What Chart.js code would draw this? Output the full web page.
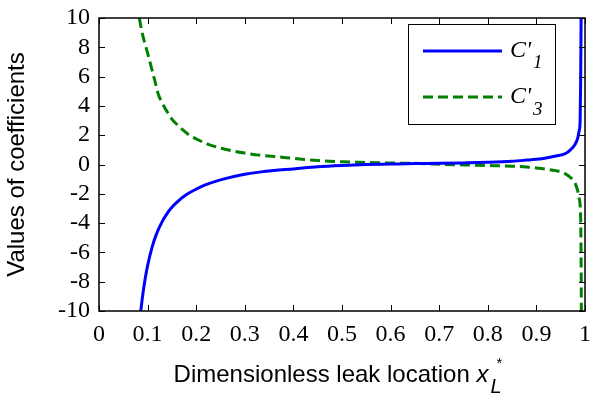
<!DOCTYPE html>
<html>
<head>
<meta charset="utf-8">
<script src="https://cdn.jsdelivr.net/npm/chart.js@4"></script>
<style>
html, body { margin: 0; padding: 0; background: #fff; }
</style>
</head>
<body>
<canvas id="coeffChart" width="593" height="401"></canvas>
<script>
// C'1 (blue, solid)
const c1X = [0.086, 0.09, 0.095, 0.1, 0.11, 0.12, 0.13, 0.14, 0.15, 0.16, 0.18, 0.2, 0.22, 0.25, 0.28, 0.3,
    0.33, 0.36, 0.4, 0.45, 0.5, 0.55, 0.6, 0.65, 0.7, 0.75, 0.8, 0.85, 0.88, 0.9, 0.92, 0.94,
    0.96, 0.97, 0.98, 0.985, 0.988, 0.99, 0.991, 0.992];
const c1Values = [-10, -8.9, -7.8, -6.9, -5.55, -4.6, -3.9, -3.35, -2.92, -2.58, -2.05, -1.68, -1.38, -1.05, -0.8, -0.67,
    -0.52, -0.41, -0.3, -0.15, -0.06, 0, 0.03, 0.06, 0.08, 0.11, 0.15, 0.22, 0.3, 0.36, 0.45, 0.58,
    0.75, 1.0, 1.4, 1.8, 2.3, 3.0, 5.5, 10];

// C'3 (green, dashed)
const c3X = [0.083, 0.088, 0.095, 0.1, 0.108, 0.115, 0.122, 0.13, 0.143, 0.15, 0.163, 0.175, 0.187, 0.2, 0.222,
    0.25, 0.28, 0.3, 0.33, 0.36, 0.4, 0.45, 0.5, 0.55, 0.6, 0.65, 0.7, 0.75, 0.8, 0.85,
    0.88, 0.9, 0.92, 0.94, 0.955, 0.965, 0.975, 0.98, 0.985, 0.988, 0.991, 0.992, 0.9925];
const c3Values = [10, 9.1, 8.2, 7.6, 6.6, 5.7, 4.8, 4.2, 3.45, 3.1, 2.65, 2.3, 1.98, 1.75, 1.41,
    1.12, 0.9, 0.78, 0.64, 0.55, 0.42, 0.27, 0.18, 0.14, 0.1, 0.08, 0.02, -0.03, -0.07, -0.12,
    -0.17, -0.24, -0.32, -0.42, -0.55, -0.75, -1.05, -1.3, -1.8, -2.3, -3.6, -6.5, -10];

const xTicks = [0, 0.1, 0.2, 0.3, 0.4, 0.5, 0.6, 0.7, 0.8, 0.9, 1];
const yTicks = [-10, -8, -6, -4, -2, 0, 2, 4, 6, 8, 10];
const xTickLabels = ['0', '0.1', '0.2', '0.3', '0.4', '0.5', '0.6', '0.7', '0.8', '0.9', '1'];

const BLUE = '#0000ff';
const GREEN = '#008000';
const DASH = [10, 5];
const serif = '"Liberation Serif", "Times New Roman", serif';
const sans = '"Liberation Sans", Arial, sans-serif';

function toPoints(xs, ys) {
    return xs.map((x, i) => ({ x: x, y: ys[i] }));
}

// box + inward ticks on all four sides (MATLAB style)
const framePlugin = {
    id: 'frame',
    afterDatasetsDraw(chart) {
        const { ctx, chartArea: a, scales } = chart;
        const tl = 6;
        ctx.save();
        ctx.strokeStyle = '#000';
        ctx.lineWidth = 1;
        ctx.beginPath();
        xTicks.forEach(v => {
            const px = Math.round(scales.x.getPixelForValue(v)) + 0.5;
            ctx.moveTo(px, a.bottom); ctx.lineTo(px, a.bottom - tl);
            ctx.moveTo(px, a.top); ctx.lineTo(px, a.top + tl);
        });
        yTicks.forEach(v => {
            const py = Math.round(scales.y.getPixelForValue(v)) + 0.5;
            ctx.moveTo(a.left, py); ctx.lineTo(a.left + tl, py);
            ctx.moveTo(a.right, py); ctx.lineTo(a.right - tl, py);
        });
        ctx.stroke();
        ctx.lineWidth = 1.5;
        ctx.strokeRect(Math.round(a.left), Math.round(a.top), Math.round(a.right - a.left), Math.round(a.bottom - a.top));
        ctx.restore();
    }
};

// legend box and x axis title with sub/superscripts
const textPlugin = {
    id: 'texts',
    afterDraw(chart) {
        const ctx = chart.ctx;
        ctx.save();
        // legend
        ctx.fillStyle = '#fff';
        ctx.fillRect(408, 24, 147, 100);
        ctx.strokeStyle = '#000';
        ctx.lineWidth = 1;
        ctx.strokeRect(408.5, 24.5, 147, 100);
        ctx.lineWidth = 3;
        ctx.strokeStyle = BLUE;
        ctx.beginPath(); ctx.moveTo(423, 51); ctx.lineTo(502, 51); ctx.stroke();
        ctx.strokeStyle = GREEN;
        ctx.setLineDash(DASH);
        ctx.beginPath(); ctx.moveTo(423, 97); ctx.lineTo(502, 97); ctx.stroke();
        ctx.setLineDash([]);
        ctx.fillStyle = '#000';
        ctx.textBaseline = 'alphabetic';
        ctx.textAlign = 'left';
        ctx.font = 'italic 24px ' + serif;
        ctx.fillText("C'", 510, 57);
        ctx.fillText("C'", 510, 103);
        ctx.font = 'italic 19px ' + serif;
        ctx.fillText('1', 533, 68);
        ctx.fillText('3', 533, 115);

        // x axis title
        const main = 'Dimensionless leak location ';
        const cx = 338;
        ctx.font = 'italic 24px ' + sans;
        const wx = ctx.measureText('x').width;
        ctx.font = '24px ' + sans;
        const wm = ctx.measureText(main).width;
        const start = cx - (wm + wx + 14) / 2;
        ctx.fillText(main, start, 382);
        ctx.font = 'italic 24px ' + sans;
        ctx.fillText('x', start + wm, 382);
        ctx.font = 'italic 20px ' + sans;
        ctx.fillText('L', start + wm + wx + 2, 393);
        ctx.font = '15px ' + sans;
        ctx.fillText('*', start + wm + wx + 8, 368);
        ctx.restore();
    }
};

const ctx = document.getElementById('coeffChart').getContext('2d');
new Chart(ctx, {
    type: 'line',
    data: {
        datasets: [{
            label: "C'1",
            data: toPoints(c1X, c1Values),
            borderColor: BLUE,
            borderWidth: 3,
            pointRadius: 0,
            fill: false,
            cubicInterpolationMode: 'monotone'
        }, {
            label: "C'3",
            data: toPoints(c3X, c3Values),
            borderColor: GREEN,
            borderWidth: 3,
            borderDash: DASH,
            pointRadius: 0,
            fill: false,
            cubicInterpolationMode: 'monotone'
        }]
    },
    options: {
        responsive: false,
        animation: false,
        devicePixelRatio: 1,
        layout: { padding: { top: 18, right: 8, left: 0, bottom: 0 } },
        plugins: {
            legend: { display: false },
            tooltip: { enabled: false }
        },
        scales: {
            x: {
                type: 'linear',
                min: 0,
                max: 1,
                afterBuildTicks: (scale) => { scale.ticks = xTicks.map(v => ({ value: v })); },
                afterFit: (scale) => {
                    scale.height = 90;
                    scale.paddingLeft = 0;
                    scale.paddingRight = 0;
                },
                grid: { display: false, drawTicks: false },
                border: { display: false },
                ticks: {
                    color: '#000',
                    padding: 9,
                    maxRotation: 0,
                    autoSkip: false,
                    font: { family: serif, size: 24 },
                    callback: (v) => xTickLabels[xTicks.indexOf(Math.round(v * 10) / 10)]
                }
            },
            y: {
                min: -10,
                max: 10,
                afterBuildTicks: (scale) => { scale.ticks = yTicks.map(v => ({ value: v })); },
                afterFit: (scale) => {
                    scale.width = 99;
                    scale.paddingTop = 0;
                    scale.paddingBottom = 0;
                },
                grid: { display: false, drawTicks: false },
                border: { display: false },
                ticks: {
                    color: '#000',
                    padding: 9,
                    autoSkip: false,
                    font: { family: serif, size: 24 }
                },
                title: {
                    display: true,
                    text: 'Values of coefficients',
                    color: '#000',
                    font: { family: sans, size: 24 },
                    padding: { top: 3, bottom: 0 }
                }
            }
        }
    },
    plugins: [framePlugin, textPlugin]
});
</script>
</body>
</html>
